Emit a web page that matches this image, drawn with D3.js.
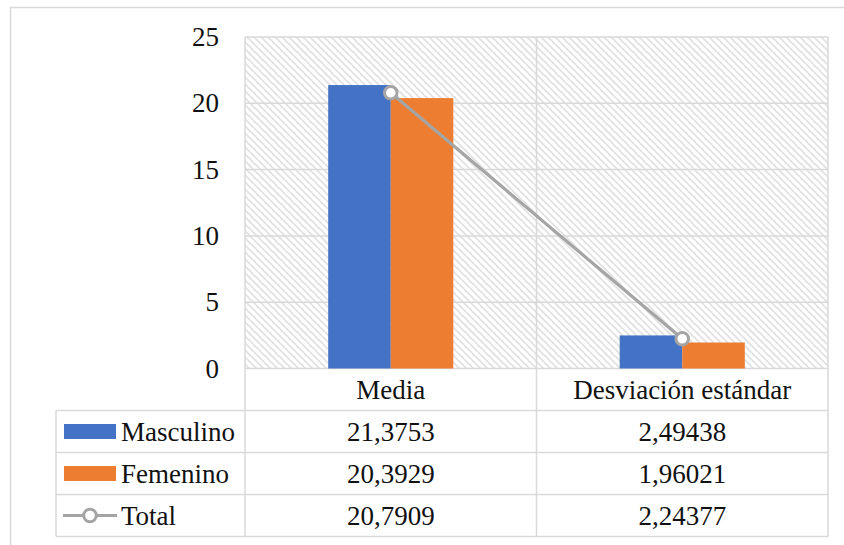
<!DOCTYPE html>
<html>
<head>
<meta charset="utf-8">
<script src="https://cdn.jsdelivr.net/npm/d3@7"></script>
<style>
  text { font-family: 'Liberation Serif', 'Times New Roman', serif !important; }
</style>
</head>
<body style="margin:0">
<script>
// values
const categories = ['Media', 'Desviación estándar'];
const barSeries = ['Masculino', 'Femenino'];
const masculino = [21.3753, 2.49438];
const femenino = [20.3929, 1.96021];
const total = [20.7909, 2.24377];
const yTicks = [0, 5, 10, 15, 20, 25];

const colors = {Masculino: '#4472c4', Femenino: '#ed7d31', Total: '#a5a5a5'};

class BarLineTable {

  constructor(_config) {
    this.config = {
      parentElement: _config.parentElement,
      containerWidth: 844,
      containerHeight: 545,
      plot: {left: 245, top: 37, right: 828, bottom: 368.5},
      rowHeight: 42,
      tableLeft: 56,
      fontSize: 27
    }
    this.initVis();
  }

  initVis() {
    let vis = this;
    const p = vis.config.plot;

    vis.svg = d3.select(vis.config.parentElement).append('svg')
        .attr('width', vis.config.containerWidth)
        .attr('height', vis.config.containerHeight)
        .attr('font-family', "'Liberation Serif'")
        .style('display', 'block');

    // outer chart frame (right / bottom fall outside the picture)
    vis.svg.append('path')
        .attr('d', 'M10.5,' + vis.config.containerHeight + 'V7.5H' + vis.config.containerWidth)
        .attr('fill', 'none')
        .attr('stroke', '#d9d9d9')
        .attr('stroke-width', 1.5);

    // hatched plot background
    const pat = vis.svg.append('defs').append('pattern')
        .attr('id', 'hatch')
        .attr('patternUnits', 'userSpaceOnUse')
        .attr('width', 7)
        .attr('height', 7);
    pat.append('rect').attr('width', 7).attr('height', 7).attr('fill', '#fff');
    pat.append('path')
        .attr('d', 'M0,0L7,7M-3.5,3.5L3.5,10.5M3.5,-3.5L10.5,3.5')
        .attr('stroke', '#e2e2e2')
        .attr('stroke-width', 1.8);

    vis.x = d3.scaleBand()
      .domain(categories)
      .range([p.left, p.right]);

    vis.xSub = d3.scaleBand()
      .domain(barSeries)
      .range([0, vis.x.bandwidth()])
      .paddingOuter(1.33);

    vis.y = d3.scaleLinear()
      .domain([0, 25])
      .range([p.bottom, p.top]);

    vis.svg.append('rect')
        .attr('x', p.left)
        .attr('y', p.top)
        .attr('width', p.right - p.left)
        .attr('height', p.bottom - p.top)
        .attr('fill', 'url(#hatch)');

    vis.renderVis();
  }

  // shared text styling
  label(sel) {
    return sel
        .attr('font-family', "'Liberation Serif'")
        .attr('font-size', this.config.fontSize)
        .attr('fill', '#111');
  }

  renderVis() {
    let vis = this;
    const p = vis.config.plot;
    const rh = vis.config.rowHeight;
    const tableBottom = p.bottom + rh * 4;
    const gridColor = '#d9d9d9';

    // horizontal gridlines
    vis.svg.append('g')
      .selectAll('line')
      .data(yTicks)
      .join('line')
        .attr('x1', p.left)
        .attr('x2', p.right)
        .attr('y1', d => vis.y(d))
        .attr('y2', d => vis.y(d))
        .attr('stroke', gridColor)
        .attr('stroke-width', 1.5);

    // y tick labels
    vis.svg.append('g')
      .selectAll('text')
      .data(yTicks)
      .join('text')
        .attr('x', 219)
        .attr('y', d => vis.y(d) + 9)
        .attr('text-anchor', 'end')
        .call(s => vis.label(s))
        .text(d => d);

    // vertical lines: plot edges + category dividers, running down through the table
    const xEdges = categories.map(c => vis.x(c)).concat([p.right]);
    vis.svg.append('g')
      .selectAll('line')
      .data(xEdges)
      .join('line')
        .attr('x1', d => d)
        .attr('x2', d => d)
        .attr('y1', p.top)
        .attr('y2', tableBottom)
        .attr('stroke', gridColor)
        .attr('stroke-width', 1.5);

    // bars
    const barData = [];
    categories.forEach((c, i) => {
      barData.push({cat: c, key: 'Masculino', value: masculino[i]});
      barData.push({cat: c, key: 'Femenino', value: femenino[i]});
    });

    vis.svg.append('g')
      .selectAll('rect')
      .data(barData)
      .join('rect')
        .attr('x', d => vis.x(d.cat) + vis.xSub(d.key))
        .attr('y', d => vis.y(d.value))
        .attr('width', vis.xSub.bandwidth())
        .attr('height', d => vis.y(0) - vis.y(d.value))
        .attr('fill', d => colors[d.key]);

    // total line
    const cx = c => vis.x(c) + vis.x.bandwidth() / 2;
    const line = d3.line()
      .x((d, i) => cx(categories[i]))
      .y(d => vis.y(d));

    vis.svg.append('path')
        .datum(total)
        .attr('d', line)
        .attr('fill', 'none')
        .attr('stroke', colors.Total)
        .attr('stroke-width', 3.2);

    vis.svg.append('g')
      .selectAll('circle')
      .data(total)
      .join('circle')
        .attr('cx', (d, i) => cx(categories[i]))
        .attr('cy', d => vis.y(d))
        .attr('r', 6.3)
        .attr('fill', '#fff')
        .attr('stroke', colors.Total)
        .attr('stroke-width', 3);

    // data table
    const rows = [
      {name: 'Masculino', values: masculino, type: 'bar'},
      {name: 'Femenino', values: femenino, type: 'bar'},
      {name: 'Total', values: total, type: 'line'}
    ];
    const rowTop = i => p.bottom + rh * (i + 1);

    // horizontal table lines
    vis.svg.append('g')
      .selectAll('line')
      .data(d3.range(rows.length + 1))
      .join('line')
        .attr('x1', vis.config.tableLeft)
        .attr('x2', p.right)
        .attr('y1', i => rowTop(i))
        .attr('y2', i => rowTop(i))
        .attr('stroke', gridColor)
        .attr('stroke-width', 1.5);

    vis.svg.append('line')
        .attr('x1', vis.config.tableLeft)
        .attr('x2', vis.config.tableLeft)
        .attr('y1', rowTop(0))
        .attr('y2', tableBottom)
        .attr('stroke', gridColor)
        .attr('stroke-width', 1.5);

    // text baseline offset inside a row
    const base = rh / 2 + 9;

    // category header
    vis.svg.append('g')
      .selectAll('text')
      .data(categories)
      .join('text')
        .attr('x', d => cx(d))
        .attr('y', p.bottom + base)
        .attr('text-anchor', 'middle')
        .call(s => vis.label(s))
        .text(d => d);

    const fmt = v => String(v).replace('.', ',');

    rows.forEach((r, i) => {
      const yc = rowTop(i) + rh / 2;

      if (r.type === 'bar') {
        vis.svg.append('rect')
            .attr('x', 64)
            .attr('y', yc - 7.5)
            .attr('width', 52)
            .attr('height', 15)
            .attr('fill', colors[r.name]);
      } else {
        vis.svg.append('line')
            .attr('x1', 63)
            .attr('x2', 117)
            .attr('y1', yc)
            .attr('y2', yc)
            .attr('stroke', colors.Total)
            .attr('stroke-width', 3.2);
        vis.svg.append('circle')
            .attr('cx', 90)
            .attr('cy', yc)
            .attr('r', 6.3)
            .attr('fill', '#fff')
            .attr('stroke', colors.Total)
            .attr('stroke-width', 3);
      }

      vis.svg.append('text')
          .attr('x', 121)
          .attr('y', rowTop(i) + base)
          .call(s => vis.label(s))
          .text(r.name);

      vis.svg.append('g')
        .selectAll('text')
        .data(r.values)
        .join('text')
          .attr('x', (d, j) => cx(categories[j]))
          .attr('y', rowTop(i) + base)
          .attr('text-anchor', 'middle')
          .call(s => vis.label(s))
          .text(d => fmt(d));
    });
  }
}

new BarLineTable({parentElement: 'body'});
</script>
</body>
</html>
